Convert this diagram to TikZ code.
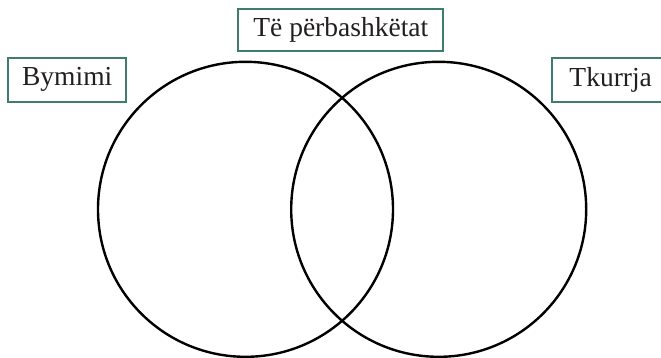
\documentclass[tikz,border=0pt]{standalone}
\usepackage{fontspec}
\setmainfont{Liberation Serif}
\usepackage{xcolor}
\usetikzlibrary{positioning,calc}
\definecolor{vteal}{HTML}{3E7D6E}
\definecolor{vink}{HTML}{231F20}
\tikzset{
  % framed heading above each part of the diagram
  hdr/.style  = {rectangle, draw=vteal, line width=2pt, fill=white, text=vink,
                 font=\fontsize{27.5}{30}\selectfont, inner xsep=13pt,
                 minimum height=44pt},
  % one set of the diagram
  venn/.style = {circle, draw=black, line width=2.4pt, minimum size=295pt,
                 inner sep=0pt},
}
\begin{document}
\begin{tikzpicture}[x=1pt,y=-1pt]
\path[use as bounding box, clip] (0,0) rectangle (661,357);
% the two sets
\node[venn] (left)  at (245.5,209.3) {};
\node[venn] (right) at (438.7,209.3) {};
% headings
\node[hdr, minimum width=118pt] (bymimi) at (67.2,79.8) {Bymimi};
\node[hdr, minimum width=205pt, minimum height=42pt] (common) at (340.8,30.3) {Të përbashkëtat};
\node[hdr, minimum width=118pt, anchor=west] (tkurrja) at (550.7,79.8) {Tkurrja};
\end{tikzpicture}
\end{document}
